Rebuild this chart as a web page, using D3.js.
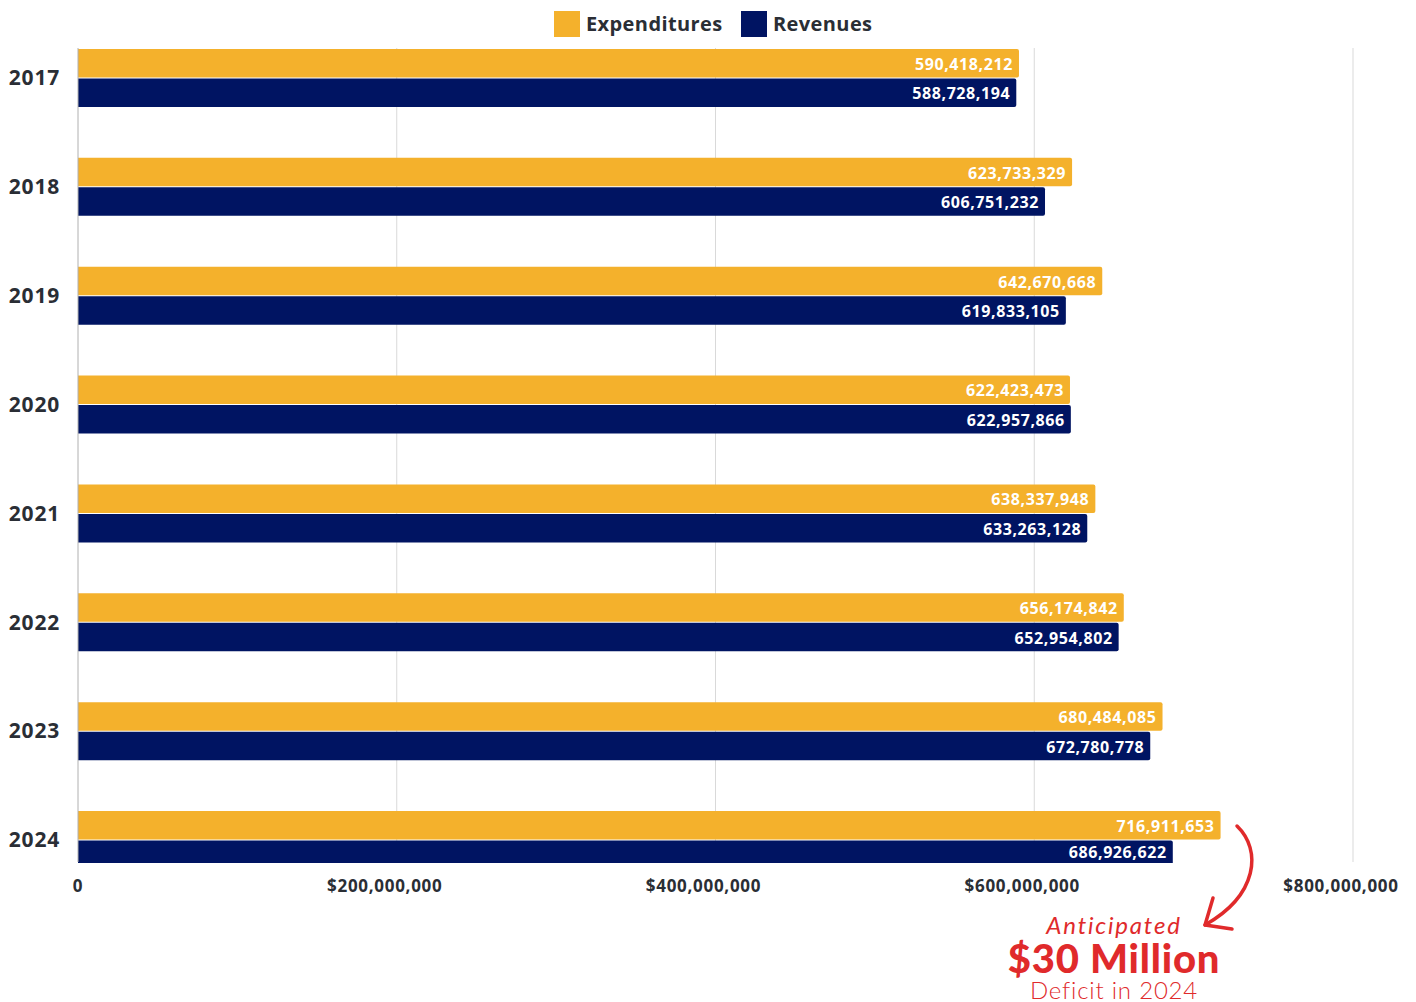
<!DOCTYPE html>
<html><head><meta charset="utf-8">
<script src="https://cdn.jsdelivr.net/npm/d3@7"></script>
<style>
html,body{margin:0;padding:0;background:#fff;}
svg{display:block;}
</style></head>
<body>
<svg id="chart" width="1416" height="1002"></svg>
<script>
const years = ["2017","2018","2019","2020","2021","2022","2023","2024"];
const expenditures = [590418212, 623733329, 642670668, 622423473, 638337948, 656174842, 680484085, 716911653];
const revenues = [588728194, 606751232, 619833105, 622957866, 633263128, 652954802, 672780778, 686926622];
const seriesNames = ["Expenditures", "Revenues"];
const seriesColors = ["#F4B12C", "#001462"];
const xTicks = [0, 200000000, 400000000, 600000000, 800000000];

(function(){
const svg = d3.select("#chart");
const pLeft = 78, pRight = 1353, pTop = 48, pBottom = 862;
const textColor = "#2a2e35";
const font = "'Open Sans', 'Noto Sans', sans-serif";

const x = d3.scaleLinear().domain([0, 800000000]).range([pLeft, pRight]);
const yStart = d3.scalePoint().domain(years).range([49, 811]);
const sub = d3.scaleBand().domain(seriesNames).range([0, 58]).paddingInner(0.035);

// gridlines
svg.append("g").selectAll("line").data(xTicks.slice(1)).join("line")
  .attr("x1", d => x(d)).attr("x2", d => x(d))
  .attr("y1", pTop).attr("y2", pBottom)
  .attr("stroke", "#d9d9d9").attr("stroke-width", 1);

// clip
svg.append("clipPath").attr("id", "plotclip").append("rect")
  .attr("x", pLeft).attr("y", pTop).attr("width", pRight - pLeft + 20).attr("height", pBottom - pTop + 1);

const flat = [];
years.forEach((yr, i) => {
  [expenditures[i], revenues[i]].forEach((v, k) => flat.push({year: yr, v, k}));
});
const barTop = d => yStart(d.year) + sub(seriesNames[d.k]);

const plot = svg.append("g").attr("clip-path", "url(#plotclip)");
plot.selectAll("path").data(flat).join("path")
  .attr("fill", d => seriesColors[d.k])
  .attr("d", d => {
    const x0 = x(0), x1 = x(d.v), y0 = barTop(d), h = sub.bandwidth(), r = 2;
    return `M${x0},${y0}H${x1 - r}Q${x1},${y0} ${x1},${y0 + r}V${y0 + h - r}Q${x1},${y0 + h} ${x1 - r},${y0 + h}H${x0}Z`;
  });

svg.append("g").selectAll("text").data(flat).join("text")
  .attr("x", d => x(d.v) - 6)
  .attr("y", d => {
    const t = barTop(d), b = Math.min(t + sub.bandwidth(), pBottom + 1);
    return (t + b) / 2 + 1;
  })
  .attr("dy", "0.35em")
  .attr("text-anchor", "end")
  .attr("fill", "#fff")
  .attr("font-family", font)
  .attr("font-weight", 700)
  .attr("font-size", "16px")
  .attr("letter-spacing", "0.6px")
  .text(d => d3.format(",")(d.v));

// y axis line
svg.append("line").attr("x1", pLeft).attr("x2", pLeft).attr("y1", pTop).attr("y2", pBottom)
  .attr("stroke", "#b0b0b0").attr("stroke-width", 1);

// year labels
svg.append("g").selectAll("text").data(years).join("text")
  .attr("x", 60)
  .attr("y", d => yStart(d) + 29)
  .attr("dy", "0.35em")
  .attr("text-anchor", "end")
  .attr("fill", textColor)
  .attr("font-family", font)
  .attr("font-weight", 700)
  .attr("font-size", "21px")
  .attr("letter-spacing", "0.8px")
  .text(d => d);

// x tick labels
svg.append("g").selectAll("text").data(xTicks).join("text")
  .attr("x", d => x(d) + (d === 0 ? 0 : -12))
  .attr("y", 886)
  .attr("dy", "0.35em")
  .attr("text-anchor", "middle")
  .attr("fill", textColor)
  .attr("font-family", font)
  .attr("font-weight", 700)
  .attr("font-size", "17px")
  .attr("letter-spacing", "0.7px")
  .text(d => d === 0 ? "0" : "$" + d3.format(",")(d));

// legend
const legendItems = [{name: seriesNames[0], color: seriesColors[0], x: 554}, {name: seriesNames[1], color: seriesColors[1], x: 741}];
const lg = svg.append("g").selectAll("g").data(legendItems).join("g")
  .attr("transform", d => `translate(${d.x},11)`);
lg.append("rect").attr("width", 26).attr("height", 26).attr("fill", d => d.color);
lg.append("text").attr("x", 32).attr("y", 13).attr("dy", "0.35em")
  .attr("fill", textColor).attr("font-family", font).attr("font-weight", 700).attr("font-size", "20px")
  .attr("letter-spacing", "0.4px")
  .text(d => d.name);

// annotation
const red = "#E02A2B";
const annX = 1114;
svg.append("text").attr("x", annX).attr("y", 934).attr("text-anchor", "middle")
  .attr("fill", red).attr("font-family", "Lato, 'Open Sans', sans-serif").attr("font-style", "italic")
  .attr("font-weight", 400).attr("font-size", "24px").attr("letter-spacing", "1.8px").text("Anticipated");
svg.append("text").attr("x", annX).attr("y", 973).attr("text-anchor", "middle")
  .attr("fill", red).attr("font-family", "Lato, 'Open Sans', sans-serif")
  .attr("font-weight", 900).attr("font-size", "40px").attr("letter-spacing", "0.8px").text("$30 Million");
svg.append("text").attr("x", annX).attr("y", 999).attr("text-anchor", "middle")
  .attr("fill", red).attr("font-family", "Lato, 'Open Sans', sans-serif")
  .attr("font-weight", 300).attr("font-size", "24px").attr("letter-spacing", "0.8px").text("Deficit in 2024");

// arrow
svg.append("path")
  .attr("d", "M1237,826 C1262,850 1258,895 1205,925")
  .attr("fill", "none").attr("stroke", red).attr("stroke-width", 3.5).attr("stroke-linecap", "round");
svg.append("path")
  .attr("d", "M1213,898 L1205,925 L1232,929")
  .attr("fill", "none").attr("stroke", red).attr("stroke-width", 3.5)
  .attr("stroke-linecap", "round").attr("stroke-linejoin", "round");
})();
</script>
</body></html>
